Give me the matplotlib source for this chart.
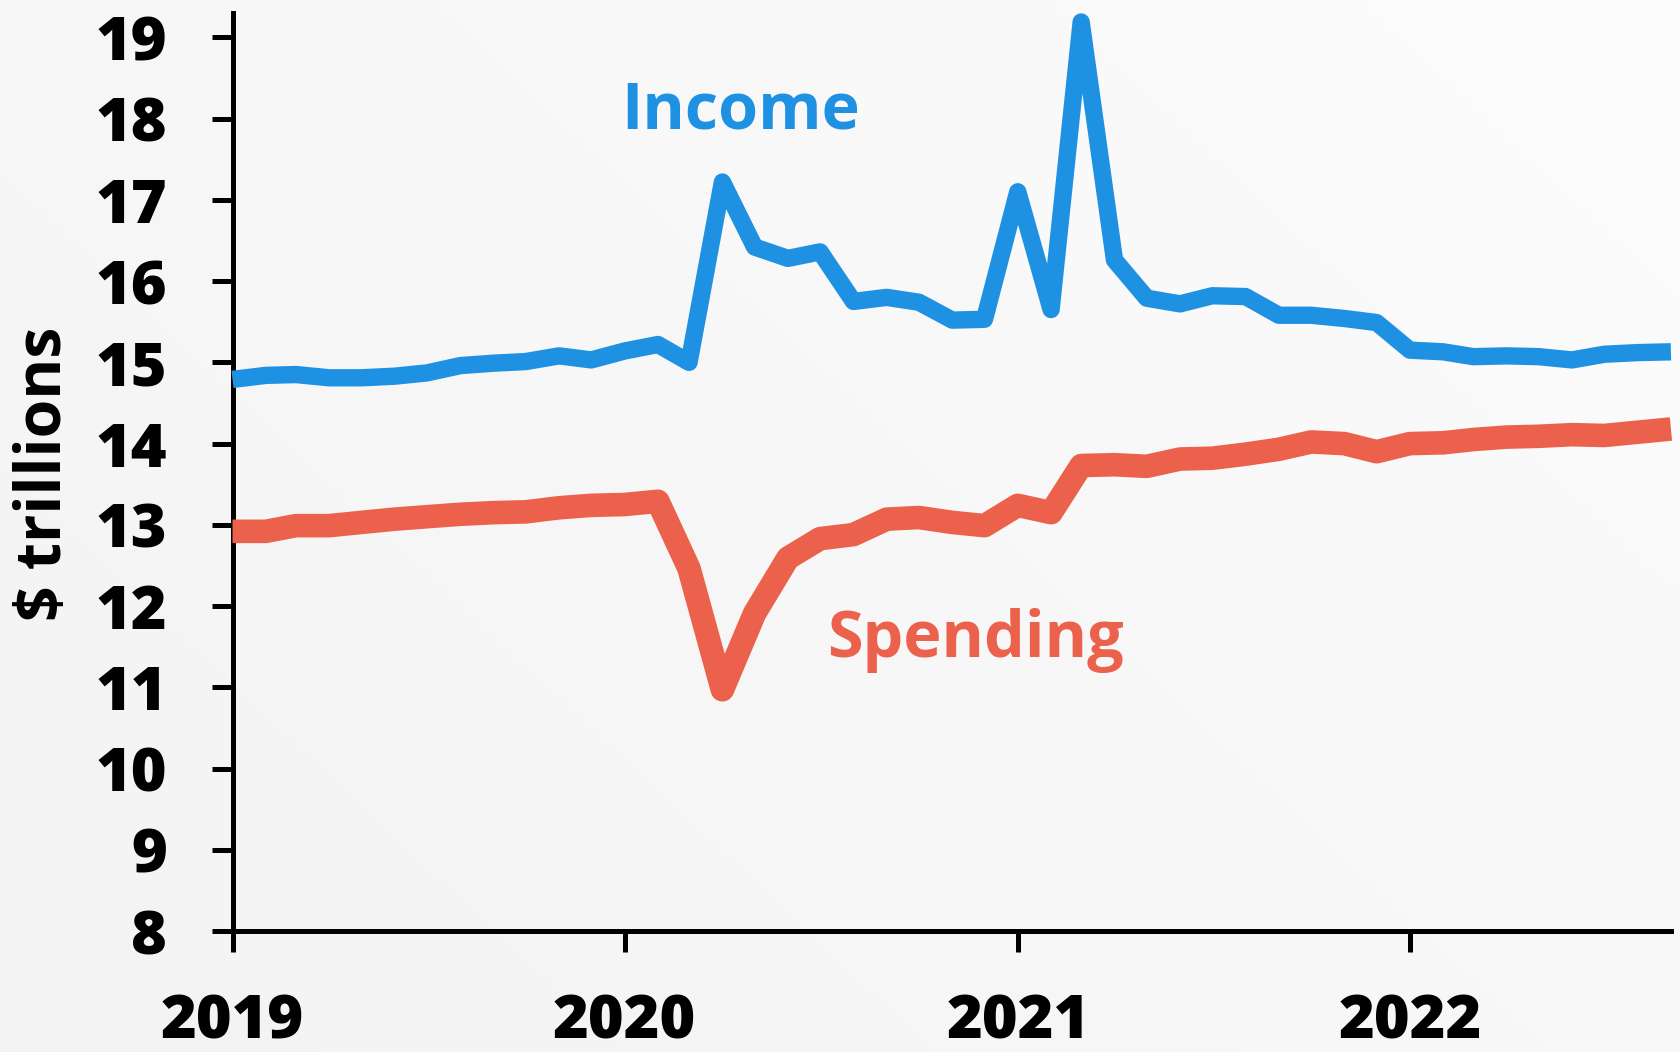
import matplotlib
matplotlib.use("Agg")
import matplotlib.pyplot as plt
import numpy as np
import pandas as pd

# monthly, Jan 2019 - Sep 2022, $ trillions (annual rate)
months = pd.date_range("2019-01-01", periods=45, freq="MS")
income = [14.79, 14.84, 14.85, 14.81, 14.81, 14.83, 14.87, 14.96, 14.99, 15.01, 15.08, 15.03,
          15.14, 15.22, 15.00, 17.22, 16.42, 16.28, 16.36, 15.75, 15.80, 15.74, 15.52, 15.53,
          17.10, 15.65, 19.19, 16.26, 15.79, 15.72, 15.82, 15.81, 15.58, 15.58, 15.54, 15.49,
          15.15, 15.13, 15.07, 15.08, 15.07, 15.03, 15.10, 15.12, 15.13]
spending = [12.92, 12.92, 12.99, 12.99, 13.03, 13.07, 13.10, 13.13, 13.15, 13.16, 13.21, 13.24,
            13.25, 13.29, 12.46, 10.97, 11.91, 12.59, 12.83, 12.88, 13.07, 13.09, 13.03, 12.99,
            13.24, 13.15, 13.73, 13.74, 13.72, 13.81, 13.82, 13.87, 13.93, 14.02, 14.00, 13.90,
            14.00, 14.01, 14.05, 14.08, 14.09, 14.11, 14.10, 14.14, 14.18]
year_ticks = ["2019", "2020", "2021", "2022"]
y_ticks = list(range(8, 20))

BLUE = "#1f91e3"
RED = "#eb614b"
FONT = "Open Sans"

fig = plt.figure(figsize=(16.8, 10.52), dpi=100)

# soft diagonal background gradient
bg = fig.add_axes([0, 0, 1, 1], zorder=-10)
gx, gy = np.meshgrid(np.linspace(0, 1, 200), np.linspace(0, 1, 200))
bg.imshow(0.6 * gx + 0.4 * (1 - gy), cmap=matplotlib.colors.LinearSegmentedColormap.from_list(
    "bg", ["#f3f3f3", "#fcfcfc"]), aspect="auto", extent=[0, 1, 0, 1])
bg.axis("off")

ax = fig.add_axes([0.1384, 0.115, 0.8562, 0.8726])
ax.patch.set_alpha(0)

ax.plot(months, income, color=BLUE, lw=12.5, solid_joinstyle="round",
        solid_capstyle="butt", clip_on=False, zorder=3)
ax.plot(months, spending, color=RED, lw=17, solid_joinstyle="round",
        solid_capstyle="butt", clip_on=False, zorder=3)

ax.set_xlim(months[0], months[-1])
ax.set_ylim(8, 19.3)
ax.set_yticks(y_ticks)
ax.set_yticklabels([str(v) for v in y_ticks])
ax.set_xticks([pd.Timestamp(y + "-01-01") for y in year_ticks])
ax.set_xticklabels(year_ticks)

for s in ["top", "right"]:
    ax.spines[s].set_visible(False)
for s in ["left", "bottom"]:
    ax.spines[s].set_linewidth(3.6)

ax.tick_params(axis="both", length=15, width=3.6, color="black")
ax.tick_params(axis="y", pad=32)
ax.tick_params(axis="x", pad=29)
for lab in ax.get_yticklabels() + ax.get_xticklabels():
    lab.set_fontfamily(FONT)
    lab.set_fontweight("heavy")
    lab.set_fontsize(44)

ax.text(0.270, 0.874, "Income", transform=ax.transAxes, color=BLUE, fontsize=46.5,
        fontweight="bold", family=FONT, ha="left", va="baseline")
ax.text(0.413, 0.298, "Spending", transform=ax.transAxes, color=RED, fontsize=46.5,
        fontweight="bold", family=FONT, ha="left", va="baseline")

fig.text(0.0262, 0.5494, "$ trillions", rotation=90, ha="center", va="center",
         fontsize=45, fontweight="bold", family=FONT)

fig.savefig("out.png", dpi=100)
